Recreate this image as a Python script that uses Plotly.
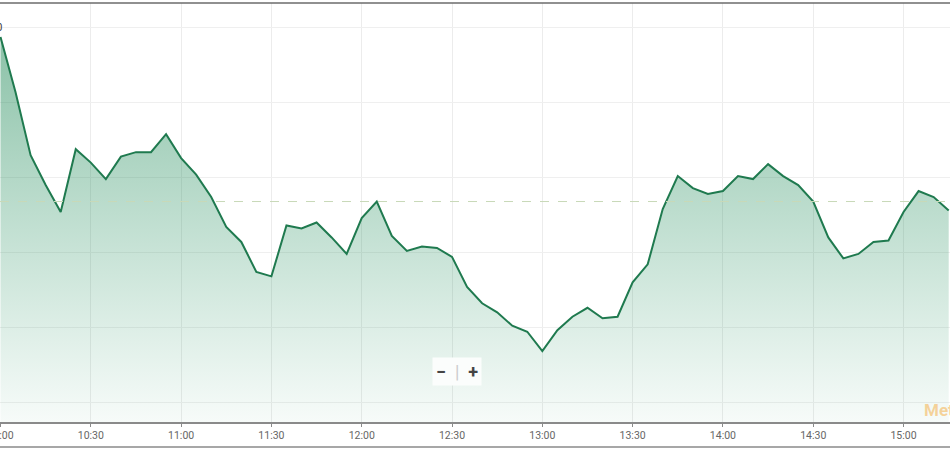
import plotly.graph_objects as go
import pandas as pd

# ---- data ----
start_time = "2024-01-02 10:00"
prices = [23.94, 23.57, 23.15, 22.95, 22.77, 23.19, 23.10, 22.99, 23.14, 23.17,
          23.17, 23.29, 23.13, 23.02, 22.87, 22.67, 22.57, 22.37, 22.34, 22.68,
          22.66, 22.70, 22.60, 22.49, 22.73, 22.84, 22.61, 22.51, 22.54, 22.53,
          22.47, 22.27, 22.16, 22.10, 22.01, 21.97, 21.84, 21.98, 22.07, 22.13,
          22.06, 22.07, 22.30, 22.42, 22.79, 23.01, 22.93, 22.89, 22.91, 23.01,
          22.99, 23.09, 23.01, 22.95, 22.84, 22.60, 22.46, 22.49, 22.57, 22.58,
          22.77, 22.91, 22.87, 22.78]
times = pd.date_range(start_time, periods=len(prices), freq="5min")
prev_close = 22.84
y_top_label = "24.0"

y_min, y_max = 21.3667, 24.1667
x_start = pd.Timestamp(start_time) - pd.Timedelta(seconds=10)
x_end = x_start + pd.Timedelta(minutes=315.6)

fig = go.Figure()
fig.add_trace(go.Scatter(x=times, y=[y_min] * len(times), mode="lines",
                         line=dict(width=0), hoverinfo="skip", showlegend=False))
fig.add_trace(go.Scatter(
    x=times, y=prices, mode="lines",
    line=dict(color="#1f7a4f", width=2),
    fill="tonexty",
    fillgradient=dict(type="vertical", start=y_min, stop=23.95,
                      colorscale=[[0, "rgba(40,150,100,0.04)"],
                                  [1, "rgba(30,135,85,0.52)"]]),
    showlegend=False))

fig.add_shape(type="line", xref="paper", x0=0, x1=1, y0=prev_close, y1=prev_close,
              line=dict(color="#c9d9b8", width=1, dash="dash"))
# frame lines
fig.add_shape(type="line", xref="paper", yref="paper", x0=0, x1=1, y0=1.0, y1=1.0,
              line=dict(color="#6b6b6b", width=1.5))
fig.add_shape(type="line", xref="paper", yref="paper", x0=0, x1=1,
              y0=-25 / 419, y1=-25 / 419, line=dict(color="#8a8a8a", width=1.5))

fig.add_annotation(xref="paper", yref="y", x=0, y=24.0, text=y_top_label,
                   xanchor="right", yanchor="middle", xshift=4, showarrow=False,
                   font=dict(family="Roboto", size=11, color="#444"))
fig.add_annotation(xref="paper", yref="paper", x=457 / 950, y=(422 - 386) / 419,
                   text="<b>−</b>  <span style='color:#ccc'>|</span>  <b>+</b>",
                   showarrow=False, bgcolor="#fbfdfc", borderpad=3,
                   font=dict(family="Roboto", size=18, color="#444"))
fig.add_annotation(xref="paper", yref="paper", x=922 / 950, y=(422 - 410) / 419,
                   text="<b>MetaStock</b>", xanchor="left", yanchor="middle",
                   showarrow=False,
                   font=dict(family="Roboto", size=17, color="rgba(245,170,60,0.5)"))

fig.update_layout(
    width=950, height=450,
    margin=dict(l=0, r=0, t=3, b=28, autoexpand=False),
    paper_bgcolor="white", plot_bgcolor="white",
    xaxis=dict(range=[x_start, x_end], type="date", tickformat="%H:%M",
               tick0=start_time, dtick=1800000, showgrid=True, automargin=False,
               gridcolor="#ececec", gridwidth=1, showline=True,
               linecolor="#8a8a8a", linewidth=1.5, ticks="outside", ticklen=3,
               tickcolor="#8a8a8a", ticklabeloverflow="allow",
               tickfont=dict(family="Roboto", size=10.5, color="#666"),
               zeroline=False),
    yaxis=dict(range=[y_min, y_max], showticklabels=False, tick0=21.5, dtick=0.5,
               automargin=False,
               showgrid=True, gridcolor="#efefef", zeroline=False),
)

fig.write_html("out.html", config={"displayModeBar": False},
               post_script="document.body.style.margin='0';document.body.style.overflow='hidden';")
